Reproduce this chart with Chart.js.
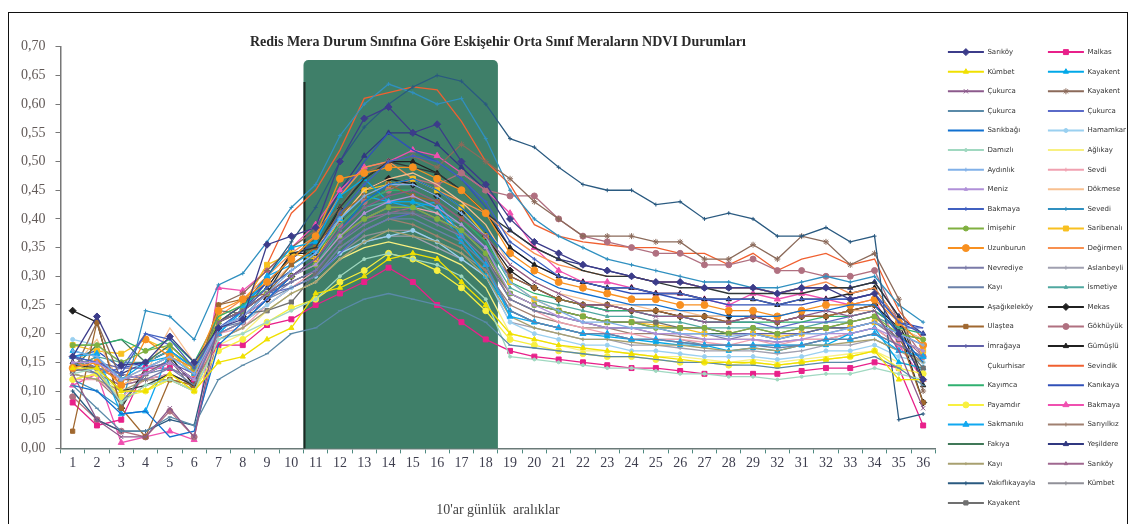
<!DOCTYPE html>
<html>
<head>
<meta charset="utf-8">
<script src="https://cdn.jsdelivr.net/npm/chart.js@4.4.1/dist/chart.umd.min.js"></script>
<style>
  html, body { margin: 0; padding: 0; background: #fff; }
  #wrap { position: relative; width: 1136px; height: 524px; }
  #frame { position: absolute; left: 8px; top: 12px; width: 1118px; height: 530px; border: 1.5px solid #111; pointer-events: none; }
</style>
</head>
<body>
<div id="wrap">
  <canvas id="ndvi"></canvas>
  <div id="frame"></div>
</div>
<script>
// 10'ar günlük aralıklar (orijinal grafikteki etiketler, 30 yerine 32 yazılmış)
const periodLabels = ['1','2','3','4','5','6','7','8','9','10','11','12','13','14','15','16','17','18',
  '19','20','21','22','23','24','25','26','27','28','29','32','31','32','33','34','35','36'];

// yeşil kutu: 11. ve 18. aralıklar arası
const shadeFrom = 10;
const shadeTo = 17;
const shadeTop = 0.677;

// sol sütun
const sarikoy1     = [0.16,0.23,0.145,0.15,0.195,0.15,0.21,0.225,0.355,0.37,0.385,0.50,0.575,0.595,0.55,0.565,0.50,0.46,0.40,0.36,0.34,0.32,0.31,0.30,0.29,0.29,0.28,0.28,0.28,0.27,0.28,0.28,0.26,0.27,0.20,0.12];
const kumbet1      = [0.14,0.14,0.10,0.10,0.13,0.10,0.15,0.16,0.19,0.21,0.27,0.28,0.30,0.33,0.34,0.33,0.29,0.25,0.20,0.19,0.18,0.175,0.17,0.165,0.16,0.155,0.15,0.15,0.15,0.145,0.15,0.155,0.16,0.17,0.12,0.12];
const cukurca1     = [0.13,0.05,0.02,0.02,0.07,0.02,0.22,0.24,0.27,0.30,0.33,0.38,0.42,0.44,0.45,0.43,0.40,0.37,0.32,0.29,0.27,0.25,0.25,0.24,0.23,0.23,0.22,0.22,0.23,0.22,0.23,0.24,0.23,0.24,0.17,0.07];
const cukurca2     = [0.11,0.07,0.03,0.03,0.055,0.04,0.12,0.145,0.165,0.20,0.21,0.24,0.26,0.27,0.26,0.25,0.24,0.22,0.18,0.175,0.17,0.165,0.16,0.16,0.155,0.15,0.15,0.145,0.145,0.14,0.145,0.15,0.15,0.16,0.14,0.11];
const sarikbag     = [0.11,0.10,0.06,0.065,0.02,0.03,0.18,0.22,0.26,0.30,0.33,0.38,0.43,0.46,0.47,0.45,0.42,0.38,0.33,0.30,0.28,0.27,0.26,0.25,0.25,0.24,0.24,0.23,0.23,0.23,0.24,0.24,0.25,0.25,0.20,0.15];
const damii        = [0.13,0.14,0.08,0.11,0.12,0.10,0.19,0.20,0.22,0.24,0.26,0.30,0.33,0.34,0.33,0.32,0.30,0.26,0.16,0.155,0.15,0.145,0.14,0.14,0.135,0.13,0.13,0.125,0.125,0.12,0.125,0.13,0.13,0.14,0.13,0.12];
const aydink       = [0.17,0.16,0.12,0.14,0.16,0.13,0.21,0.23,0.27,0.31,0.34,0.40,0.44,0.46,0.46,0.44,0.41,0.37,0.29,0.26,0.24,0.22,0.22,0.21,0.21,0.20,0.20,0.195,0.20,0.19,0.20,0.20,0.21,0.22,0.20,0.18];
const meniz        = [0.15,0.15,0.12,0.13,0.15,0.12,0.21,0.23,0.26,0.30,0.32,0.37,0.41,0.43,0.44,0.42,0.39,0.35,0.27,0.25,0.23,0.22,0.21,0.21,0.20,0.20,0.19,0.19,0.19,0.185,0.19,0.20,0.20,0.21,0.19,0.17];
const bakmaya1     = [0.16,0.15,0.13,0.20,0.19,0.14,0.21,0.24,0.28,0.31,0.34,0.41,0.46,0.50,0.51,0.50,0.47,0.43,0.36,0.33,0.30,0.29,0.28,0.28,0.27,0.27,0.26,0.26,0.26,0.25,0.26,0.26,0.26,0.27,0.22,0.20];
const imisehir     = [0.18,0.18,0.15,0.17,0.18,0.14,0.22,0.24,0.27,0.30,0.32,0.37,0.40,0.42,0.42,0.40,0.38,0.34,0.27,0.25,0.24,0.23,0.22,0.22,0.21,0.21,0.21,0.20,0.21,0.20,0.21,0.21,0.22,0.23,0.20,0.19];
const uzunburun    = [0.14,0.15,0.11,0.19,0.16,0.14,0.24,0.26,0.29,0.33,0.37,0.47,0.48,0.49,0.49,0.47,0.45,0.41,0.34,0.31,0.29,0.28,0.27,0.26,0.26,0.25,0.25,0.24,0.24,0.23,0.24,0.25,0.25,0.26,0.22,0.18];
const nevredye     = [0.16,0.14,0.13,0.12,0.14,0.12,0.20,0.22,0.26,0.29,0.31,0.36,0.39,0.41,0.41,0.39,0.37,0.33,0.26,0.24,0.23,0.22,0.21,0.21,0.20,0.20,0.20,0.19,0.20,0.19,0.20,0.20,0.21,0.22,0.19,0.17];
const kayi1        = [0.15,0.13,0.08,0.13,0.14,0.11,0.21,0.22,0.26,0.28,0.30,0.35,0.38,0.40,0.40,0.38,0.36,0.32,0.24,0.22,0.21,0.20,0.20,0.19,0.19,0.185,0.18,0.18,0.18,0.175,0.18,0.19,0.19,0.20,0.18,0.16];
const asagikelekoy = [0.145,0.14,0.10,0.11,0.13,0.11,0.22,0.24,0.27,0.34,0.35,0.42,0.47,0.50,0.49,0.48,0.45,0.41,0.38,0.35,0.33,0.31,0.30,0.30,0.29,0.28,0.28,0.27,0.27,0.27,0.27,0.28,0.28,0.29,0.23,0.12];
const ulastea      = [0.03,0.22,0.07,0.02,0.12,0.11,0.25,0.26,0.27,0.32,0.35,0.41,0.44,0.46,0.44,0.43,0.40,0.37,0.30,0.28,0.26,0.25,0.25,0.24,0.24,0.23,0.23,0.22,0.23,0.22,0.23,0.23,0.24,0.25,0.20,0.08];
const imragaya     = [0.16,0.15,0.14,0.14,0.15,0.13,0.21,0.23,0.27,0.29,0.31,0.36,0.40,0.42,0.42,0.40,0.38,0.34,0.27,0.25,0.24,0.23,0.22,0.22,0.21,0.21,0.21,0.20,0.20,0.20,0.20,0.21,0.21,0.22,0.20,0.18];
const cukurhisar   = [0.14,0.15,0.12,0.13,0.15,0.12,0.21,0.23,0.26,0.29,0.31,0.36,0.39,0.41,0.41,0.39,0.37,0.33,0.26,0.24,0.23,0.22,0.21,0.21,0.20,0.20,0.20,0.19,0.19,0.19,0.19,0.20,0.20,0.21,0.19,0.17];
const kayimca      = [0.18,0.18,0.19,0.17,0.19,0.15,0.23,0.25,0.28,0.31,0.34,0.39,0.43,0.45,0.45,0.43,0.40,0.36,0.29,0.27,0.26,0.25,0.24,0.24,0.23,0.23,0.22,0.22,0.22,0.22,0.22,0.23,0.23,0.24,0.21,0.20];
const payamdir     = [0.12,0.13,0.09,0.10,0.12,0.10,0.17,0.19,0.22,0.245,0.26,0.29,0.31,0.34,0.33,0.31,0.28,0.24,0.19,0.18,0.17,0.165,0.16,0.16,0.155,0.15,0.15,0.145,0.15,0.145,0.15,0.155,0.16,0.17,0.14,0.13];
const sakmaniki    = [0.16,0.165,0.06,0.065,0.17,0.14,0.20,0.245,0.30,0.32,0.345,0.40,0.44,0.43,0.42,0.43,0.37,0.32,0.23,0.22,0.21,0.20,0.20,0.19,0.19,0.185,0.18,0.18,0.18,0.18,0.18,0.19,0.19,0.20,0.17,0.16];
const fakiya       = [0.14,0.18,0.19,0.15,0.18,0.14,0.22,0.24,0.27,0.29,0.31,0.36,0.39,0.41,0.41,0.39,0.37,0.33,0.26,0.24,0.23,0.22,0.21,0.21,0.21,0.20,0.20,0.20,0.20,0.19,0.20,0.21,0.21,0.22,0.20,0.19];
const kayi2        = [0.13,0.12,0.10,0.12,0.12,0.11,0.19,0.21,0.24,0.27,0.29,0.33,0.36,0.38,0.37,0.36,0.34,0.30,0.23,0.21,0.20,0.19,0.19,0.185,0.18,0.18,0.175,0.17,0.175,0.17,0.18,0.18,0.185,0.19,0.17,0.15];
const vakiflikayayla = [0.10,0.05,0.03,0.03,0.05,0.04,0.22,0.25,0.30,0.36,0.42,0.50,0.56,0.60,0.63,0.65,0.64,0.60,0.54,0.525,0.49,0.46,0.45,0.45,0.425,0.43,0.40,0.41,0.40,0.37,0.37,0.385,0.36,0.37,0.05,0.06];
const kayakent1    = [0.135,0.14,0.075,0.13,0.155,0.10,0.24,0.235,0.24,0.255,0.305,0.36,0.40,0.42,0.41,0.40,0.37,0.33,0.27,0.25,0.24,0.23,0.22,0.22,0.22,0.21,0.21,0.20,0.21,0.20,0.21,0.21,0.22,0.23,0.19,0.14];

// sağ sütun
const malkas       = [0.08,0.04,0.05,0.14,0.14,0.12,0.18,0.18,0.215,0.225,0.25,0.27,0.29,0.315,0.29,0.25,0.22,0.19,0.17,0.16,0.155,0.15,0.145,0.14,0.14,0.135,0.13,0.13,0.13,0.13,0.135,0.14,0.14,0.15,0.14,0.04];
const kayakent2    = [0.17,0.16,0.12,0.15,0.16,0.13,0.20,0.24,0.30,0.35,0.36,0.44,0.47,0.43,0.43,0.42,0.36,0.30,0.24,0.22,0.21,0.20,0.195,0.19,0.185,0.18,0.18,0.17,0.175,0.17,0.18,0.18,0.20,0.21,0.15,0.14];
const kayakent3    = [0.13,0.22,0.12,0.12,0.12,0.11,0.25,0.27,0.31,0.35,0.38,0.42,0.48,0.50,0.51,0.49,0.53,0.50,0.47,0.43,0.40,0.37,0.37,0.37,0.36,0.36,0.33,0.33,0.355,0.33,0.37,0.36,0.32,0.34,0.26,0.10];
const cukurca3     = [0.15,0.13,0.14,0.20,0.18,0.14,0.22,0.24,0.27,0.28,0.30,0.34,0.38,0.40,0.41,0.40,0.38,0.35,0.30,0.28,0.26,0.25,0.24,0.24,0.23,0.23,0.22,0.22,0.22,0.21,0.22,0.22,0.23,0.24,0.21,0.21];
const hamamkar     = [0.19,0.18,0.15,0.14,0.16,0.14,0.20,0.22,0.25,0.28,0.30,0.34,0.36,0.37,0.38,0.36,0.33,0.30,0.22,0.20,0.19,0.18,0.18,0.17,0.17,0.165,0.16,0.16,0.16,0.155,0.16,0.17,0.17,0.18,0.16,0.15];
const aglikay      = [0.12,0.13,0.10,0.10,0.12,0.11,0.18,0.20,0.24,0.27,0.29,0.33,0.35,0.36,0.35,0.34,0.32,0.28,0.20,0.19,0.18,0.17,0.17,0.165,0.16,0.16,0.155,0.15,0.155,0.15,0.155,0.16,0.165,0.17,0.15,0.14];
const sevdi        = [0.12,0.12,0.09,0.12,0.13,0.11,0.20,0.21,0.25,0.28,0.31,0.36,0.40,0.42,0.42,0.41,0.38,0.34,0.26,0.24,0.22,0.21,0.20,0.20,0.19,0.19,0.185,0.18,0.19,0.18,0.19,0.19,0.20,0.21,0.18,0.16];
const dokmese      = [0.14,0.19,0.11,0.13,0.21,0.15,0.22,0.24,0.28,0.32,0.35,0.40,0.45,0.47,0.48,0.46,0.43,0.39,0.32,0.29,0.27,0.26,0.25,0.25,0.24,0.24,0.23,0.23,0.23,0.22,0.23,0.23,0.24,0.24,0.21,0.19];
const sevedi       = [0.12,0.10,0.07,0.24,0.23,0.19,0.285,0.305,0.36,0.42,0.46,0.545,0.60,0.635,0.62,0.60,0.61,0.54,0.45,0.40,0.37,0.35,0.33,0.32,0.31,0.30,0.29,0.29,0.28,0.28,0.29,0.30,0.29,0.30,0.25,0.22];
const saribenali   = [0.18,0.17,0.165,0.19,0.17,0.13,0.23,0.25,0.32,0.34,0.33,0.40,0.45,0.46,0.47,0.45,0.42,0.37,0.29,0.26,0.24,0.23,0.22,0.22,0.215,0.21,0.20,0.20,0.20,0.195,0.20,0.21,0.21,0.22,0.19,0.17];
const degirmen     = [0.15,0.14,0.12,0.14,0.16,0.13,0.23,0.26,0.30,0.34,0.37,0.44,0.49,0.50,0.47,0.45,0.43,0.41,0.37,0.34,0.32,0.31,0.30,0.30,0.29,0.29,0.28,0.28,0.28,0.27,0.28,0.29,0.27,0.28,0.22,0.18];
const aslanbeyli   = [0.13,0.12,0.10,0.10,0.12,0.10,0.19,0.21,0.24,0.27,0.29,0.33,0.36,0.37,0.37,0.35,0.33,0.30,0.22,0.21,0.20,0.19,0.19,0.18,0.18,0.175,0.17,0.17,0.17,0.165,0.17,0.18,0.18,0.19,0.17,0.16];
const ismetiye     = [0.14,0.16,0.15,0.15,0.17,0.13,0.21,0.23,0.27,0.30,0.32,0.38,0.42,0.43,0.43,0.41,0.39,0.35,0.28,0.26,0.25,0.24,0.23,0.23,0.22,0.22,0.21,0.21,0.21,0.21,0.21,0.22,0.22,0.23,0.21,0.19];
const mekas        = [0.24,0.22,0.07,0.14,0.16,0.11,0.21,0.23,0.26,0.30,0.33,0.40,0.45,0.47,0.46,0.44,0.41,0.37,0.31,0.28,0.26,0.25,0.25,0.24,0.24,0.23,0.23,0.23,0.23,0.22,0.23,0.23,0.24,0.25,0.21,0.08];
const gokhuyuk     = [0.09,0.05,0.03,0.02,0.065,0.02,0.20,0.22,0.26,0.30,0.33,0.39,0.43,0.45,0.47,0.46,0.48,0.45,0.44,0.44,0.40,0.37,0.36,0.35,0.34,0.34,0.32,0.32,0.33,0.31,0.31,0.30,0.30,0.31,0.22,0.16];
const gumuslu      = [0.15,0.14,0.12,0.13,0.15,0.12,0.22,0.24,0.28,0.34,0.34,0.42,0.47,0.50,0.50,0.48,0.45,0.41,0.35,0.32,0.30,0.29,0.28,0.28,0.27,0.27,0.26,0.26,0.26,0.25,0.26,0.26,0.27,0.28,0.22,0.11];
const sevindik     = [0.14,0.16,0.11,0.13,0.15,0.12,0.22,0.25,0.32,0.41,0.45,0.52,0.61,0.62,0.63,0.625,0.57,0.50,0.46,0.39,0.37,0.36,0.355,0.35,0.35,0.34,0.34,0.32,0.34,0.31,0.33,0.34,0.32,0.33,0.24,0.19];
const kanikaya     = [0.16,0.17,0.14,0.15,0.17,0.14,0.22,0.24,0.29,0.33,0.36,0.44,0.50,0.55,0.52,0.50,0.47,0.42,0.35,0.32,0.30,0.29,0.28,0.27,0.27,0.26,0.26,0.25,0.25,0.25,0.25,0.26,0.26,0.27,0.22,0.21];
const bakmaya2     = [0.11,0.13,0.01,0.02,0.03,0.015,0.28,0.275,0.31,0.35,0.39,0.45,0.49,0.50,0.52,0.51,0.48,0.45,0.41,0.35,0.31,0.29,0.29,0.28,0.27,0.27,0.26,0.25,0.27,0.26,0.27,0.26,0.25,0.26,0.18,0.12];
const sariyilikiz  = [0.13,0.12,0.08,0.11,0.12,0.10,0.20,0.22,0.25,0.28,0.30,0.35,0.38,0.40,0.39,0.37,0.35,0.31,0.25,0.23,0.22,0.21,0.21,0.20,0.20,0.195,0.19,0.19,0.19,0.185,0.19,0.19,0.20,0.21,0.18,0.15];
const yesildere    = [0.16,0.14,0.13,0.15,0.17,0.14,0.22,0.25,0.29,0.33,0.37,0.45,0.51,0.55,0.55,0.53,0.49,0.45,0.38,0.35,0.33,0.32,0.31,0.30,0.29,0.29,0.28,0.28,0.28,0.27,0.28,0.28,0.28,0.29,0.23,0.20];
const sarikoy2     = [0.12,0.13,0.11,0.12,0.13,0.11,0.21,0.23,0.27,0.30,0.32,0.37,0.40,0.41,0.42,0.40,0.38,0.35,0.30,0.28,0.26,0.25,0.24,0.24,0.24,0.23,0.23,0.22,0.23,0.22,0.23,0.23,0.24,0.25,0.20,0.16];
const kumbet2      = [0.14,0.13,0.11,0.12,0.13,0.11,0.20,0.22,0.25,0.28,0.30,0.34,0.37,0.38,0.38,0.36,0.34,0.31,0.24,0.22,0.21,0.20,0.20,0.19,0.19,0.19,0.18,0.18,0.18,0.18,0.18,0.19,0.19,0.20,0.18,0.16];

// [ad, değerler, renk, işaret, işaret boyu]
const series = [
  ['Sarıköy', sarikoy1, '#3c3c8a', 'rectRot', 3.5],
  ['Kümbet', kumbet1, '#f0e000', 'triangle', 3],
  ['Çukurca', cukurca1, '#8c5a8c', 'crossRot', 3],
  ['Çukurca', cukurca2, '#5a8aa8', 'line', 2],
  ['Sarıkbağı', sarikbag, '#1070d0', 'circle', 0],
  ['Damızlı', damii, '#a0d8c0', 'circle', 1.5],
  ['Aydınlık', aydink, '#80b0e8', 'cross', 2],
  ['Meniz', meniz, '#b090d8', 'triangle', 2],
  ['Bakmaya', bakmaya1, '#4060c0', 'cross', 2],
  ['İmişehir', imisehir, '#80b040', 'circle', 2.5],
  ['Uzunburun', uzunburun, '#f89020', 'circle', 3.5],
  ['Nevrediye', nevredye, '#7a7aa8', 'cross', 2],
  ['Kayı', kayi1, '#6a80a8', 'circle', 0],
  ['Aşağıkeleköy', asagikelekoy, '#303838', 'line', 2],
  ['Ulaştea', ulastea, '#a06830', 'rect', 3],
  ['İmrağaya', imragaya, '#6060a8', 'cross', 2],
  ['Çukurhisar', cukurhisar, 'rgba(255,255,255,0)', 'circle', 0],
  ['Kayımca', kayimca, '#30b070', 'circle', 0],
  ['Payamdır', payamdir, '#f8f040', 'circle', 3],
  ['Sakmanıkı', sakmaniki, '#10a8f0', 'triangle', 3.5],
  ['Fakıya', fakiya, '#407858', 'line', 2],
  ['Kayı', kayi2, '#a8a070', 'cross', 1.5],
  ['Vakıflıkayayla', vakiflikayayla, '#2a5a80', 'cross', 2],
  ['Kayakent', kayakent1, '#707070', 'rect', 3],
  ['Malkas', malkas, '#e8208a', 'rect', 3.5],
  ['Kayakent', kayakent2, '#00a8e8', 'triangle', 3],
  ['Kayakent', kayakent3, '#8b6a5a', 'star', 3],
  ['Çukurca', cukurca3, '#5a6ac8', 'circle', 0],
  ['Hamamkar', hamamkar, '#9ad0f0', 'circle', 2],
  ['Ağlıkay', aglikay, '#f8f080', 'circle', 0],
  ['Sevdi', sevdi, '#f0a0b0', 'cross', 2],
  ['Dökmese', dokmese, '#f8c090', 'circle', 0],
  ['Sevedi', sevedi, '#3090c0', 'cross', 2],
  ['Saribenalı', saribenali, '#f8c020', 'rect', 3.5],
  ['Değirmen', degirmen, '#f89050', 'circle', 0],
  ['Aslanbeyli', aslanbeyli, '#a0a0b0', 'cross', 2],
  ['İsmetiye', ismetiye, '#50a8a0', 'triangle', 2],
  ['Mekas', mekas, '#202020', 'rectRot', 3.5],
  ['Gökhüyük', gokhuyuk, '#b07080', 'circle', 3],
  ['Gümüşlü', gumuslu, '#202020', 'triangle', 3],
  ['Sevindik', sevindik, '#f06030', 'circle', 0],
  ['Kanıkaya', kanikaya, '#3050b8', 'circle', 0],
  ['Bakmaya', bakmaya2, '#f050b0', 'triangle', 3.5],
  ['Sarıyılkız', sariyilikiz, '#a08070', 'cross', 2],
  ['Yeşildere', yesildere, '#303880', 'triangle', 3],
  ['Sarıköy', sarikoy2, '#a06890', 'triangle', 2],
  ['Kümbet', kumbet2, '#909098', 'cross', 2]
];

// yeşil arka plan kutusu
const shadePlugin = {
  id: 'shade',
  beforeDatasetsDraw(chart) {
    const { ctx, scales: { x, y } } = chart;
    const half = (x.getPixelForValue(1) - x.getPixelForValue(0)) / 2;
    const left = x.getPixelForValue(shadeFrom) - half;
    const right = x.getPixelForValue(shadeTo) + half;
    const top = y.getPixelForValue(shadeTop);
    const bottom = y.getPixelForValue(0);
    ctx.save();
    ctx.fillStyle = '#3f7f69';
    ctx.beginPath();
    ctx.roundRect(left, top, right - left, bottom - top, [5, 5, 0, 0]);
    ctx.fill();
    ctx.strokeStyle = '#1c2823';
    ctx.lineWidth = 2;
    ctx.beginPath();
    ctx.moveTo(left + 1, top + 22);
    ctx.lineTo(left + 1, bottom);
    ctx.stroke();
    ctx.restore();
  }
};

// lejanttaki çizgilerin ortasına işaret koy
const legendMarkers = {
  id: 'legendMarkers',
  afterDraw(chart) {
    const lg = chart.legend;
    if (!lg || !Chart.helpers || !Chart.helpers.drawPoint) return;
    const ctx = chart.ctx;
    const bw = lg.options.labels.boxWidth;
    const fs = lg.options.labels.font.size;
    lg.legendItems.forEach((item, i) => {
      const ds = chart.data.datasets[item.datasetIndex];
      const box = lg.legendHitBoxes[i];
      if (!ds.pointRadius || !box) return;
      ctx.save();
      ctx.fillStyle = ds.pointBackgroundColor;
      ctx.strokeStyle = ds.pointBorderColor;
      ctx.lineWidth = 1;
      Chart.helpers.drawPoint(ctx, { pointStyle: ds.pointStyle, radius: ds.pointRadius, rotation: 0, borderWidth: 1 },
        box.left + bw / 2, box.top + fs / 2);
      ctx.restore();
    });
  }
};

const ctx = document.getElementById('ndvi').getContext('2d');
const ndviChart = new Chart(ctx, {
  type: 'line',
  data: {
    labels: periodLabels,
    datasets: series.map(s => ({
      label: s[0],
      data: s[1],
      borderColor: s[2],
      backgroundColor: s[2],
      pointBackgroundColor: s[2],
      pointBorderColor: s[2],
      pointStyle: s[3],
      pointRadius: s[4],
      pointBorderWidth: 1,
      borderWidth: 1.3,
      tension: 0,
      fill: false
    }))
  },
  options: {
    responsive: true,
    maintainAspectRatio: false,
    animation: false,
    events: [],
    layout: { padding: { left: 11, right: 0, top: 36, bottom: 0 } },
    scales: {
      x: {
        offset: true,
        grid: { offset: true, drawOnChartArea: false, drawTicks: true, tickLength: 5, color: '#4e8a80' },
        border: { display: true, color: '#6a7a78', width: 1.5 },
        ticks: { font: { family: 'Liberation Serif', size: 14 }, color: '#3e3e4e', padding: 2, autoSkip: false, maxRotation: 0 },
        title: {
          display: true,
          text: "10'ar günlük  aralıklar",
          font: { family: 'Liberation Serif', size: 14 },
          color: '#444',
          padding: { top: 28, bottom: 5 }
        }
      },
      y: {
        min: 0,
        max: 0.7,
        ticks: {
          stepSize: 0.05,
          font: { family: 'Liberation Serif', size: 14 },
          color: '#625a58',
          padding: 10,
          callback: v => v.toFixed(2).replace('.', ',')
        },
        grid: { drawOnChartArea: false, drawTicks: true, tickLength: 5, color: '#777' },
        border: { display: true, color: '#777', width: 1.5 }
      }
    },
    plugins: {
      title: {
        display: true,
        fullSize: false,
        text: 'Redis Mera Durum Sınıfına Göre Eskişehir Orta Sınıf Meraların NDVI Durumları',
        font: { family: 'Liberation Serif', size: 14, weight: 'bold' },
        color: '#2a2a2a',
        padding: { top: -2, bottom: -4 }
      },
      legend: {
        position: 'right',
        align: 'start',
        labels: {
          boxWidth: 36,
          boxHeight: 2,
          padding: 12.6,
          font: { family: 'DejaVu Sans', size: 7 },
          color: '#333',
          generateLabels(chart) {
            const items = Chart.defaults.plugins.legend.labels.generateLabels(chart);
            items.forEach(it => { it.fillStyle = it.strokeStyle; it.lineWidth = 0; });
            return items;
          }
        }
      },
      tooltip: { enabled: false }
    }
  },
  plugins: [shadePlugin, legendMarkers]
});
</script>
</body>
</html>
